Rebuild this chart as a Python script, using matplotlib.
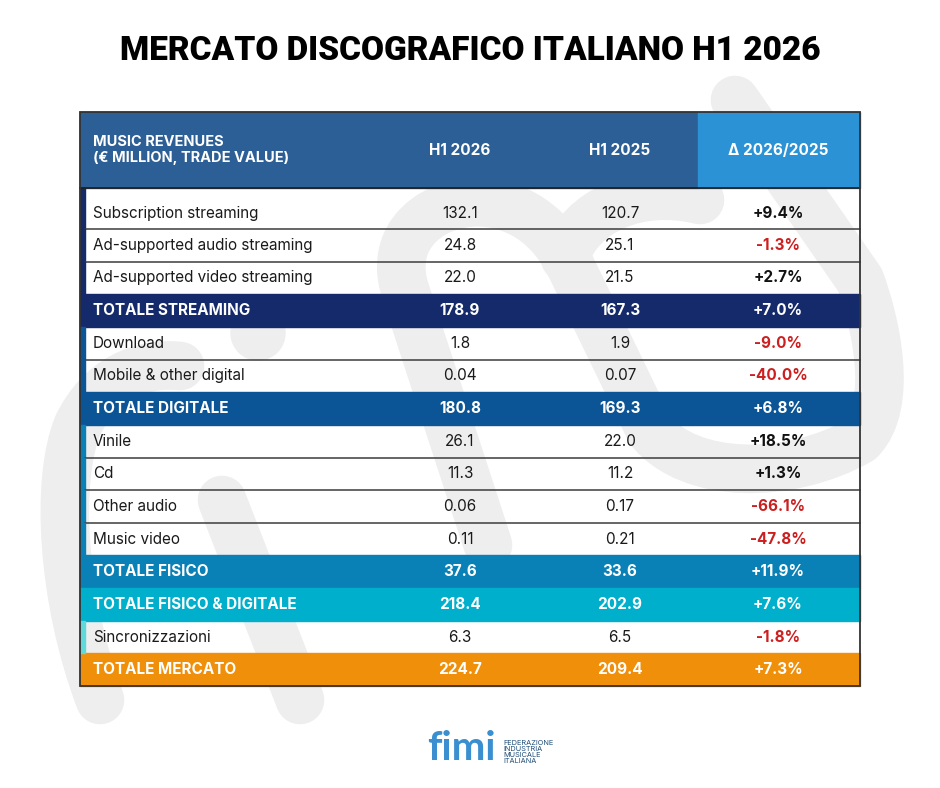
import matplotlib.pyplot as plt
from matplotlib.patches import Rectangle, Circle, PathPatch
from matplotlib.path import Path

# table content
labels = ["Subscription streaming", "Ad-supported audio streaming", "Ad-supported video streaming",
          "TOTALE STREAMING", "Download", "Mobile & other digital", "TOTALE DIGITALE",
          "Vinile", "Cd", "Other audio", "Music video", "TOTALE FISICO",
          "TOTALE FISICO & DIGITALE", "Sincronizzazioni", "TOTALE MERCATO"]
h1_2026 = [132.1, 24.8, 22.0, 178.9, 1.8, 0.04, 180.8, 26.1, 11.3, 0.06, 0.11, 37.6, 218.4, 6.3, 224.7]
h1_2025 = [120.7, 25.1, 21.5, 167.3, 1.9, 0.07, 169.3, 22.0, 11.2, 0.17, 0.21, 33.6, 202.9, 6.5, 209.4]
delta = [9.4, -1.3, 2.7, 7.0, -9.0, -40.0, 6.8, 18.5, 1.3, -66.1, -47.8, 11.9, 7.6, -1.8, 7.3]
# row group: which colour the row (total) or its left accent bar (item) uses
group = ["stream", "stream", "stream", "stream", "digi", "digi", "digi",
         "fis", "fis", "fis", "fis", "fis", "fd", "sinc", "merc"]
is_total = [l.startswith("TOTALE") for l in labels]
headers = ["MUSIC REVENUES\n(€ MILLION, TRADE VALUE)", "H1 2026", "H1 2025", "Δ 2026/2025"]

total_col = {"stream": "#152a6a", "digi": "#0b5596", "fis": "#0981b6", "fd": "#00afcb", "merc": "#f0900a"}
bar_col = {"stream": "#152a6a", "digi": "#0b5596", "fis": "#0981b6", "sinc": "#5fd9d9"}
RED = "#cc1f1f"

W, H = 940, 788
fig = plt.figure(figsize=(W / 100, H / 100), dpi=100)
ax = fig.add_axes([0, 0, 1, 1])
ax.set_xlim(0, W)
ax.set_ylim(H, 0)
ax.axis("off")

BODY = ["Inter", "DejaVu Sans"]

# faint "fimi" watermark behind the table
wm = "#eeeeee"
def stroke(verts, codes, lw=35):
    ax.add_patch(PathPatch(Path(verts, codes), fill=False, edgecolor=wm, lw=lw,
                           capstyle="round", joinstyle="round", zorder=0))

M, L, C = Path.MOVETO, Path.LINETO, Path.CURVE4
stroke([(100, 700), (62, 600), (55, 480), (78, 425), (100, 380), (140, 362), (180, 366)],
       [M, C, C, C, C, C, C])
ax.add_patch(Circle((258, 333), 27, color=wm, zorder=0))
stroke([(222, 500), (300, 700)], [M, L])
stroke([(488, 545), (405, 290), (385, 225), (450, 192), (500, 205), (540, 215), (560, 245), (570, 265),
        (650, 430), (690, 480), (790, 480), (860, 440), (895, 405), (875, 320), (860, 280), (735, 100)],
       [M, L, C, C, C, C, C, C, L, C, C, C, C, C, C, L])
stroke([(565, 258), (580, 210), (640, 185), (700, 200)], [M, C, C, C])

# geometry of the table
x0, x1 = 80, 860
col_x = [93, 460, 620, 778]
head_top, head_bot = 112, 188
first_bot = 229
row_h = (686 - first_bot) / 14
edges = [head_bot, first_bot] + [first_bot + row_h * (i + 1) for i in range(14)]

ax.add_patch(Rectangle((x0, head_top), 618, head_bot - head_top, color="#2c5f96", zorder=2))
ax.add_patch(Rectangle((698, head_top), x1 - 698, head_bot - head_top, color="#2c92d6", zorder=2))
hy = (head_top + head_bot) / 2
ax.text(col_x[0], hy, headers[0], color="white", fontsize=10.5, fontweight="bold", family=BODY,
        va="center", ha="left", linespacing=1.25, zorder=5)
for j in range(1, 4):
    ax.text(col_x[j], hy, headers[j], color="white", fontsize=11, fontweight="bold", family=BODY,
            va="center", ha="center", zorder=5)

def fmt(v):
    return f"{v:.2f}" if v < 1 else f"{v:.1f}"

for i, lab in enumerate(labels):
    top, bot = edges[i], edges[i + 1]
    ty = bot - 16 if i == 0 else (top + bot) / 2
    if is_total[i]:
        ax.add_patch(Rectangle((x0, top), x1 - x0, bot - top, color=total_col[group[i]], zorder=2))
        tc, w = "white", "bold"
        dcol = "white"
    else:
        ax.add_patch(Rectangle((x0, top), 5, bot - top, color=bar_col[group[i]], zorder=3))
        tc, w = "#1a1a1a", "normal"
        dcol = RED if delta[i] < 0 else "#111111"
        if i + 1 < len(labels) and not is_total[i + 1]:
            ax.plot([x0 + 5, x1], [bot, bot], color="#3c3c3c", lw=1.1, zorder=3)
    ax.text(col_x[0], ty, lab, color=tc, fontsize=11, fontweight=w, family=BODY,
            va="center", ha="left", zorder=5)
    ax.text(col_x[1], ty, fmt(h1_2026[i]), color=tc, fontsize=11, fontweight=w, family=BODY,
            va="center", ha="center", zorder=5)
    ax.text(col_x[2], ty, fmt(h1_2025[i]), color=tc, fontsize=11, fontweight=w, family=BODY,
            va="center", ha="center", zorder=5)
    ax.text(col_x[3], ty, f"{delta[i]:+.1f}%", color=dcol, fontsize=11, fontweight="bold", family=BODY,
            va="center", ha="center", zorder=5)

ax.plot([x0, x1], [head_bot, head_bot], color="#222222", lw=1.3, zorder=4)
ax.add_patch(Rectangle((x0, head_top), x1 - x0, 686 - head_top, fill=False,
                       edgecolor="#333333", lw=1.3, zorder=6))

# title
ax.text(W / 2, 51, "MERCATO DISCOGRAFICO ITALIANO H1 2026", fontsize=24, fontweight="black",
        family=["Roboto", "DejaVu Sans"], ha="center", va="center", color="black")

# logo
ax.text(461, 748, "fimi", fontsize=29, fontweight="bold", family=["Lato", "DejaVu Sans"],
        color="#3a8fd0", ha="center", va="center")
ax.text(503, 752, "FEDERAZIONE\nINDUSTRIA\nMUSICALE\nITALIANA", fontsize=5.3, color="#1f4e79",
        family=BODY, ha="left", va="center", linespacing=0.95)

fig.savefig("out.png", dpi=100, facecolor="white")
